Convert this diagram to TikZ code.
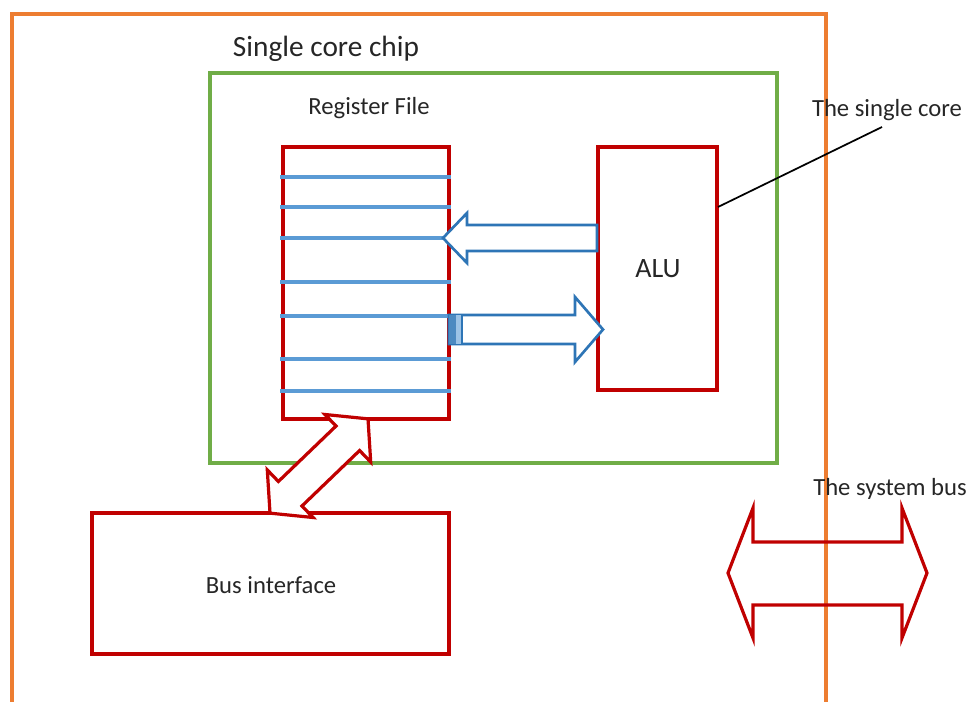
\documentclass[tikz,border=0pt]{standalone}
\usepackage{fontspec}
\setmainfont{Carlito}
\usetikzlibrary{fit}
\definecolor{orng}{HTML}{ED7D31}
\definecolor{grn}{HTML}{70AD47}
\definecolor{rd}{HTML}{C00000}
\definecolor{bl}{HTML}{5B9BD5}
\definecolor{bldk}{HTML}{2E75B6}
\definecolor{txt}{HTML}{262626}
\begin{document}
\begin{tikzpicture}[x=0.75pt,y=-0.75pt,
  box/.style={draw=rd, line width=3.6pt, inner sep=0pt},
  lbl/.style={font=\fontsize{18.5}{20}\selectfont, text=txt, anchor=base, inner sep=0pt},
  reg/.style={draw=bl, line width=3pt},
  barrow/.style={draw=bldk, line width=2pt, fill=white, line join=miter},
  rarrow/.style={draw=rd, line width=2.4pt, line join=miter}]
\useasboundingbox (0,0) rectangle (971,702);
% outer chip frame
\draw[orng, line width=3pt] (12,712) -- (12,14) -- (826,14) -- (826,712);
% single core
\node[fit={(210,73)(777,463)}, draw=grn, line width=3pt, inner sep=0pt] (core) {};
% register file
\node[fit={(283,147)(449,419)}, box] (rf) {};
\foreach \yy in {177,207,238,282,316,359,391}
  \draw[reg] (280,\yy) -- (451,\yy);
% ALU
\node[fit={(598,147)(717,390)}, box] (alu) {};
% bus interface
\node[fit={(92,513)(449,654)}, box] (bi) {};
% labels
\node[lbl, font=\fontsize{22}{24}\selectfont] (chip) at (326,57) {Single core chip};
\node[lbl] (rft) at (369,115) {Register File};
\node[lbl, font=\fontsize{21}{23}\selectfont] (alut) at (658,278) {ALU};
\node[lbl] (bit) at (271,593) {Bus interface};
\node[lbl] (sct) at (887,117) {The single core};
\node[lbl] (sbt) at (890,495) {The system bus};
% leader line
\coordinate (c1) at (718,207);
\coordinate (c2) at (882,127);
\draw[black, line width=1.3pt] (c1) -- (c2);
% ALU -> register file arrow
\draw[barrow] (597,225) -- (467,225) -- (467,213) -- (443,238) -- (467,263) -- (467,251) -- (597,251) -- cycle;
% register file -> ALU arrow
\draw[barrow] (449,315) -- (575,315) -- (575,297) -- (603,329.5) -- (575,362) -- (575,344) -- (449,344) -- cycle;
\fill[bldk!85] (449,315) rectangle (456,344);
\fill[bl!60] (456,315) rectangle (462,344);
\draw[bldk, line width=1.5pt] (462,315) -- (462,344);
% register file <-> bus interface double arrow
\begin{scope}[shift={(319,466)}, rotate=43.9]
\draw[rarrow, fill=white] (-68,0) -- (-40,33) -- (-40,17) -- (40,17) -- (40,33) -- (68,0)
  -- (40,-33) -- (40,-17) -- (-40,-17) -- (-40,-33) -- cycle;
\end{scope}
% system bus double arrow
\draw[rarrow] (728,573) -- (753,508) -- (753,542) -- (902,542) -- (902,508) -- (927,573)
  -- (902,638) -- (902,605) -- (753,605) -- (753,638) -- cycle;
\end{tikzpicture}
\end{document}
